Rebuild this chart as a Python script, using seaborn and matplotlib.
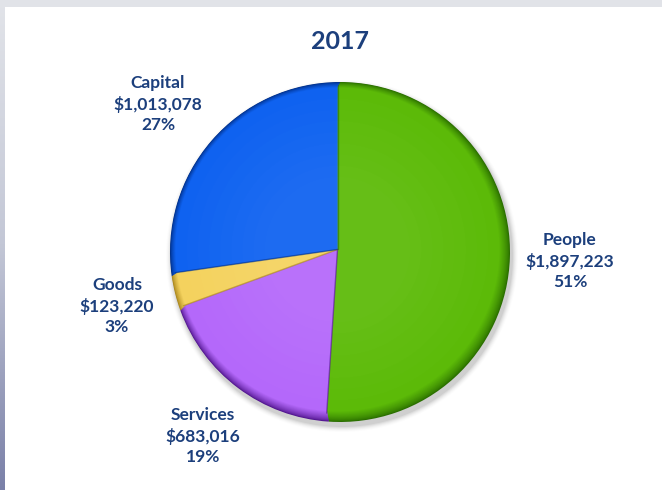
import numpy as np
import matplotlib
matplotlib.use("Agg")
import matplotlib.pyplot as plt
import matplotlib.colors as mcolors
import seaborn as sns

# Budget split for 2017
categories = ["People", "Services", "Goods", "Capital"]
amounts = [1897223, 683016, 123220, 1013078]
pct_labels = ["51%", "19%", "3%", "27%"]
title = "2017"

base_colors = ["#5cba08", "#b468fa", "#f4d25e", "#0f62f0"]
rim_colors = ["#2a6e00", "#52168f", "#a8841a", "#002f88"]
text_color = "#1c3f7c"

sns.set_theme(style="white")
plt.rcParams["font.family"] = ["Lato", "DejaVu Sans"]

W, H = 662, 490
fig = plt.figure(figsize=(W / 100, H / 100), dpi=100)
ax = fig.add_axes([0, 0, 1, 1])

# frame: grey band along the top, shaded band down the left side
grad = np.linspace(0, 1, 256).reshape(-1, 1)
left_cmap = mcolors.LinearSegmentedColormap.from_list("edge", ["#e2e4e9", "#c3c7d6", "#7a80a8"])
ax.imshow(grad, cmap=left_cmap, extent=[0, 5, 0, H], aspect="auto", zorder=0)
ax.add_patch(plt.Rectangle((0, H - 7), W, 7, color="#e1e3e8", zorder=0.5, lw=0))
ax.add_patch(plt.Rectangle((5, 0), W - 5, H - 7, color="white", zorder=0.2, lw=0))

cx, cy, R = 340, H - 252, 170

# soft shadow under the pie
for i, a in enumerate(np.linspace(0.05, 0.01, 6)):
    ax.add_patch(plt.Circle((cx + 2, cy - 4), R + 1 + i, color="black", alpha=a, lw=0, zorder=1))


def blend(c1, c2, t):
    return mcolors.to_hex((1 - t) * np.array(mcolors.to_rgb(c1)) + t * np.array(mcolors.to_rgb(c2)))


# bevelled rim: stacked pies blending from rim colour to face colour,
# drifting up-left so the dark edge sits on the lower right
n_layers = 12
for k in range(n_layers):
    t = k / (n_layers - 1)
    r = R - 8 * t
    c = (cx - 2.5 * t, cy + 2.5 * t)
    cols = [blend(rc, bc, t ** 0.7) for rc, bc in zip(rim_colors, base_colors)]
    wedges, _ = ax.pie(amounts, colors=cols, startangle=90, counterclock=False,
                       center=c, radius=r, frame=True, wedgeprops=dict(linewidth=0))
    for w in wedges:
        w.set_zorder(2 + k * 0.01)

# slightly brighter face toward the middle
n_face = 8
for k in range(n_face):
    t = (k + 1) / n_face
    r = (R - 8) * (1 - 0.55 * t)
    cols = [blend(bc, "#ffffff", 0.06 * t) for bc in base_colors]
    wedges, _ = ax.pie(amounts, colors=cols, startangle=90, counterclock=False,
                       center=(cx - 2.5, cy + 2.5), radius=r, frame=True,
                       wedgeprops=dict(linewidth=0))
    for w in wedges:
        w.set_zorder(2.5 + k * 0.01)

# darker seams between slices
total = sum(amounts)
ang = 90.0
for amt, rc in zip(amounts, rim_colors):
    th = np.deg2rad(ang)
    ax.plot([cx - 2.5, cx - 2.5 + (R - 6) * np.cos(th)], [cy + 2.5, cy + 2.5 + (R - 6) * np.sin(th)],
            color=rc, lw=1.0, alpha=0.6, zorder=3)
    ang -= 360.0 * amt / total

ax.set_xlim(0, W)
ax.set_ylim(0, H)
ax.set_aspect("equal")
ax.axis("off")

# labels
label_pos = {"People": (570, 261), "Services": (203, 436), "Goods": (117, 306), "Capital": (158, 104)}
for cat, amt, pct in zip(categories, amounts, pct_labels):
    x, y = label_pos[cat]
    ax.text(x, H - y, f"{cat}\n${amt:,}\n{pct}", ha="center", va="center",
            fontsize=12.5, fontweight="bold", color=text_color, linespacing=1.3, zorder=5)

ax.text(340, H - 42, title, ha="center", va="center", fontsize=18,
        fontweight="bold", color=text_color, zorder=5)

fig.savefig("out.png", dpi=100)
